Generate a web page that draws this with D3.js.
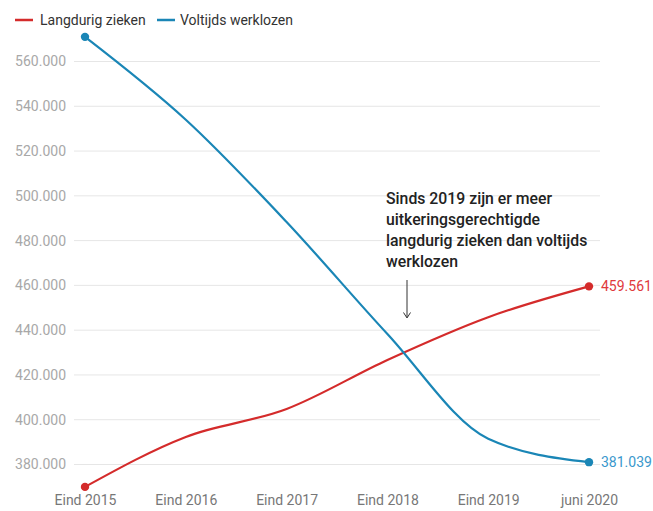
<!DOCTYPE html>
<html><head><meta charset="utf-8">
<script src="https://cdn.jsdelivr.net/npm/d3@7"></script>
<style>body{margin:0;background:#fff;font-family:Roboto,"Noto Sans",sans-serif;}</style>
</head><body>
<svg id="c" width="653" height="511"></svg>
<script>
const categories = ["Eind 2015","Eind 2016","Eind 2017","Eind 2018","Eind 2019","juni 2020"];
const langdurigZieken = [370000, 392300, 404800, 426700, 445800, 459561];
const voltijdsWerklozen = [571000, 534000, 488300, 438300, 391500, 381039];
const yTicks = [380000,400000,420000,440000,460000,480000,500000,520000,540000,560000];
const seriesNames = ["Langdurig zieken","Voltijds werklozen"];
const colors = ["#d42b2b","#1a86b6"];
const labelColors = ["#e0393c","#3a98cc"];

const svg = d3.select("#c");
const x = d3.scalePoint().domain(categories).range([85, 589]);
const y = d3.scaleLinear().domain([380000, 560000]).range([464.5, 61.5]);
const fmt = v => d3.format(",")(v).replace(/,/g,".");

// grid
const g = svg.append("g");
g.selectAll("line.grid").data(yTicks).join("line")
  .attr("x1",74).attr("x2",600).attr("y1",d=>y(d)).attr("y2",d=>y(d))
  .attr("stroke","#e6e6e6").attr("stroke-width",1);
g.selectAll("text.yl").data(yTicks).join("text")
  .attr("x",66).attr("y",d=>y(d)).attr("dy","0.35em").attr("text-anchor","end")
  .attr("font-size",14).attr("fill","#a8a8a8").text(fmt);

// x axis labels
const xa = svg.append("g").attr("transform","translate(0,500)")
  .call(d3.axisBottom(x).tickSize(0).tickPadding(0));
xa.select(".domain").remove();
xa.selectAll("text").attr("font-size",14).attr("fill","#777").attr("font-family","Roboto").attr("dy","0.35em").attr("y",0);

const line = d3.line().x((d,i)=>x(categories[i])).y(d=>y(d)).curve(d3.curveMonotoneX);
[langdurigZieken, voltijdsWerklozen].forEach((s,k)=>{
  svg.append("path").attr("d",line(s)).attr("fill","none").attr("stroke",colors[k]).attr("stroke-width",2.2);
  [0, s.length-1].forEach(i=>{
    svg.append("circle").attr("cx",x(categories[i])).attr("cy",y(s[i])).attr("r",4.2).attr("fill",colors[k]);
  });
  const last = s.length-1;
  svg.append("text").attr("x",x(categories[last])+12).attr("y",y(s[last])).attr("dy","0.35em")
    .attr("font-size",14).attr("fill",labelColors[k]).text(fmt(s[last]));
});

// legend
const leg = [[15,40],[157,180]];
seriesNames.forEach((n,k)=>{
  svg.append("line").attr("x1",leg[k][0]).attr("x2",leg[k][0]+18).attr("y1",20).attr("y2",20)
    .attr("stroke",colors[k]).attr("stroke-width",2.5);
  svg.append("text").attr("x",leg[k][1]).attr("y",20).attr("dy","0.35em").attr("font-size",14)
    .attr("fill","#333").text(n);
});

// annotation
const ann = ["Sinds 2019 zijn er meer","uitkeringsgerechtigde","langdurig zieken dan voltijds","werklozen"];
const at = svg.append("text").attr("font-size",15.8).attr("font-weight",500).attr("fill","#222");
ann.forEach((t,i)=>at.append("tspan").attr("x",386).attr("y",204+i*21).text(t));
svg.append("line").attr("x1",407).attr("x2",407).attr("y1",280).attr("y2",317).attr("stroke","#333").attr("stroke-width",1);
svg.append("path").attr("d","M403.5,312.5 L407,318 L410.5,312.5").attr("fill","none").attr("stroke","#333").attr("stroke-width",1);
</script>
</body></html>
